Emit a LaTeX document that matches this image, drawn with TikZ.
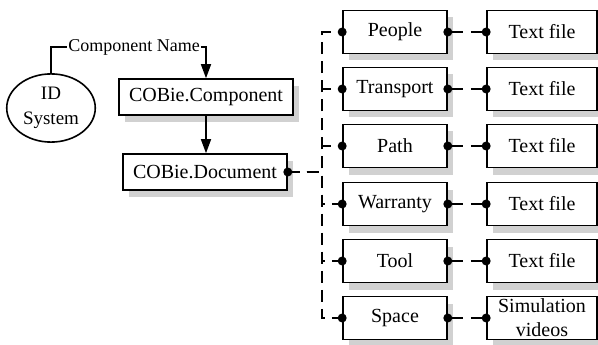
\documentclass[tikz,border=0pt]{standalone}
\usepackage{fontspec}
\setmainfont{Liberation Serif}
\usetikzlibrary{arrows.meta,shadows,shapes.geometric}

\begin{document}
\begin{tikzpicture}[x=1pt, y=-1pt, >={Triangle[length=14pt,width=10pt]},
    box/.style={draw, line width=1.6pt, fill=white, inner sep=2pt, align=center,
        font=\fontsize{20}{24}\selectfont,
        drop shadow={shadow xshift=6pt, shadow yshift=-7pt, opacity=1, fill=black!18}},
    objbox/.style={box, minimum width=104pt, minimum height=43pt},
    filebox/.style={box, minimum width=110pt, minimum height=43pt},
    flow/.style={line width=1.6pt},
    bus/.style={line width=1.6pt, dash pattern=on 12pt off 7pt},
    link/.style={line width=1.6pt, dash pattern=on 15pt off 8pt}]
    \useasboundingbox (0,0) rectangle (598,345);

    \def\bx{395}
    \def\fx{542}
    \def\busx{322}
    \def\r{4.5pt}

    % ID system and component name
    \node[ellipse, draw, line width=1.6pt, minimum width=86pt, minimum height=64pt,
        align=center, font=\fontsize{19}{25}\selectfont] (ids) at (51,108) {ID\\System};
    \node[inner sep=1pt, font=\fontsize{18}{20}\selectfont] (cname) at (134,47) {Component Name};

    % COBie
    \node[box, minimum width=174pt, minimum height=36pt] (comp) at (206,97) {COBie.Component};
    \node[box, minimum width=164pt, minimum height=36pt] (doc) at (205,172) {COBie.Document};

    \draw[flow] (ids.north) |- (cname.west);
    \draw[flow, ->] (cname.east) -| (comp.north);
    \draw[flow, ->] (comp.south) -- (comp.south |- doc.north);

    % Sheets
    \node[objbox] (people) at (\bx,32) {People};
    \node[objbox] (transport) at (\bx,89) {Transport};
    \node[objbox] (path) at (\bx,146) {Path};
    \node[objbox] (warranty) at (\bx,204) {Warranty};
    \node[objbox] (tool) at (\bx,261) {Tool};
    \node[objbox] (space) at (\bx,318) {Space};

    % Files
    \node[filebox] (pfile) at (\fx,32) {Text file};
    \node[filebox] (tfile) at (\fx,89) {Text file};
    \node[filebox] (afile) at (\fx,146) {Text file};
    \node[filebox] (wfile) at (\fx,204) {Text file};
    \node[filebox] (ofile) at (\fx,261) {Text file};
    \node[filebox] (sfile) at (\fx,318) {Simulation\\videos};

    % Bus from document to sheets
    \coordinate (bus) at (\busx,172);
    \draw[bus] (doc.east) -- (bus) |- (people.west);
    \draw[bus] (doc.east) -- (bus) |- (transport.west);
    \draw[bus] (doc.east) -- (bus) |- (path.west);
    \draw[bus] (doc.east) -- (bus) |- (warranty.west);
    \draw[bus] (doc.east) -- (bus) |- (tool.west);
    \draw[bus] (doc.east) -- (bus) |- (space.west);

    % Sheets to files
    \draw[link] (people.east) -- (pfile.west);
    \draw[link] (transport.east) -- (tfile.west);
    \draw[link] (path.east) -- (afile.west);
    \draw[link] (warranty.east) -- (wfile.west);
    \draw[link] (tool.east) -- (ofile.west);
    \draw[link] (space.east) -- (sfile.west);

    % Connection dots
    \fill (doc.east) circle (\r);
    \fill (people.west) circle (\r) (people.east) circle (\r) (pfile.west) circle (\r);
    \fill (transport.west) circle (\r) (transport.east) circle (\r) (tfile.west) circle (\r);
    \fill (path.west) circle (\r) (path.east) circle (\r) (afile.west) circle (\r);
    \fill (warranty.west) circle (\r) (warranty.east) circle (\r) (wfile.west) circle (\r);
    \fill (tool.west) circle (\r) (tool.east) circle (\r) (ofile.west) circle (\r);
    \fill (space.west) circle (\r) (space.east) circle (\r) (sfile.west) circle (\r);
\end{tikzpicture}
\end{document}
